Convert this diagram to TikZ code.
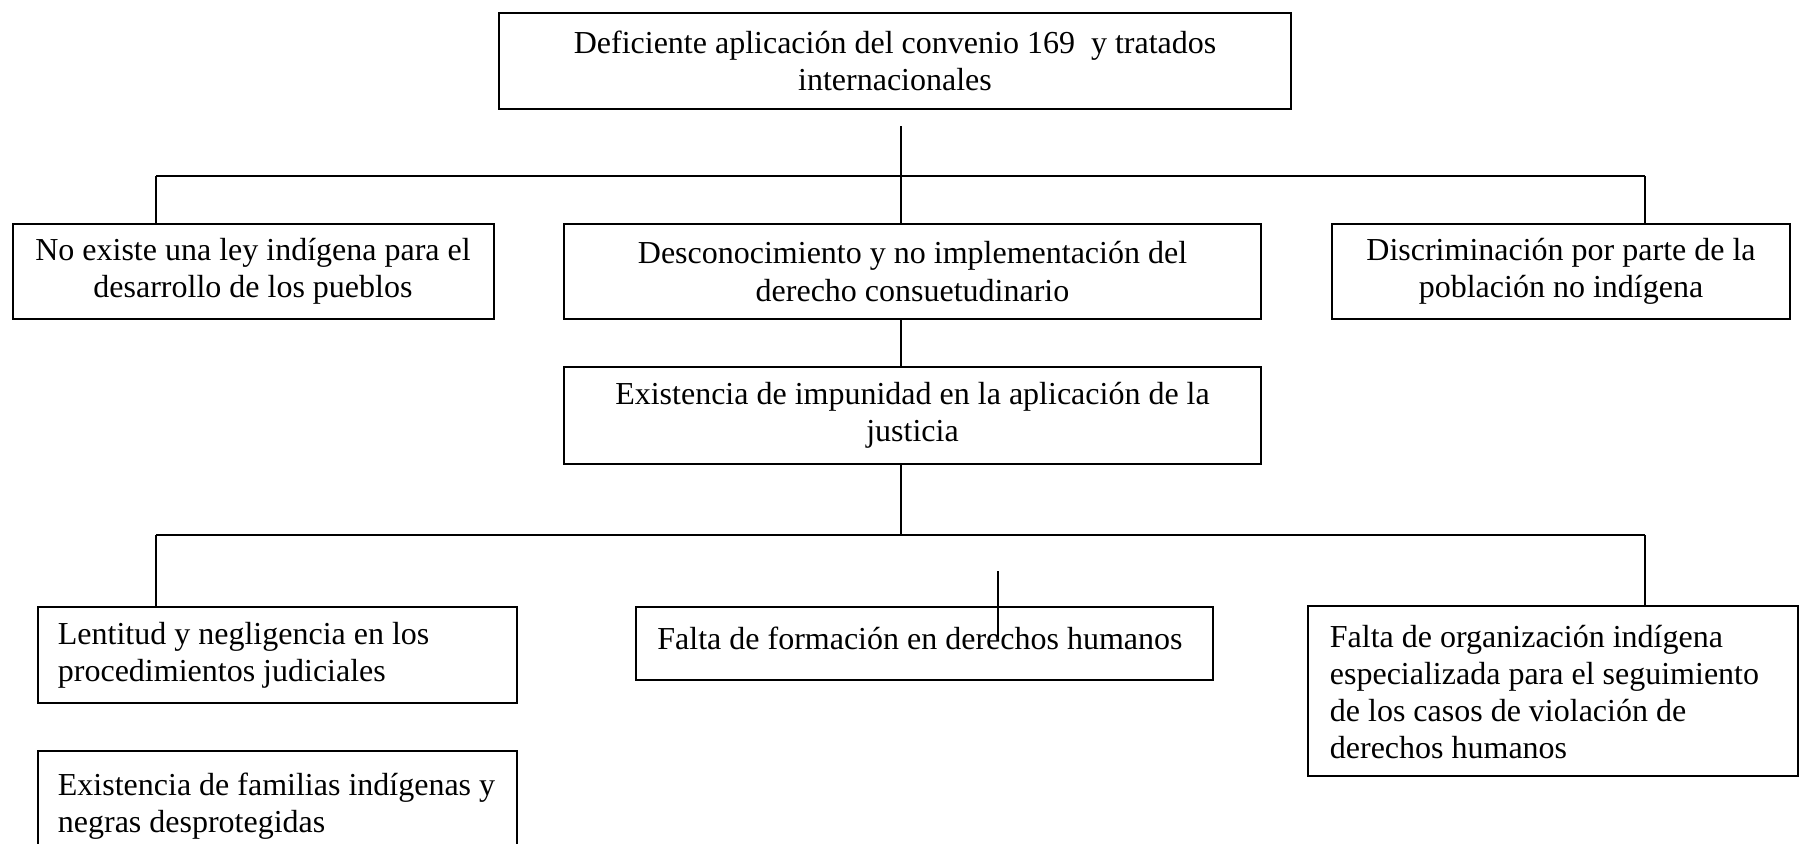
\documentclass[tikz,border=0pt]{standalone}
\usepackage{fontspec}
\setmainfont{Liberation Serif}
\begin{document}
\begin{tikzpicture}[x=0.5pt,y=-0.5pt,
  txt/.style={font=\fontsize{16pt}{18.6pt}\selectfont},
  box/.style={draw, line width=1pt, rectangle, inner sep=0pt},
  cbox/.style={box, txt, align=center},
  lbl/.style={txt, align=left, inner sep=0pt, anchor=west},
  link/.style={line width=0.9pt}]
\useasboundingbox (0,0) rectangle (1800,843);
% centred boxes
\node[cbox, minimum width=396pt, minimum height=48pt] (top) at (895,61)
  {Deficiente aplicación del convenio 169~ y tratados\\internacionales};
\node[cbox, minimum width=240.5pt, minimum height=47.5pt] (A) at (253,271.5)
  {No existe una ley indígena para el\\desarrollo de los pueblos};
\node[cbox, minimum width=348.5pt, minimum height=47.5pt] (B) at (912.5,271.5)
  {Desconocimiento y no implementación del\\derecho consuetudinario};
\node[cbox, minimum width=229pt, minimum height=47.5pt] (C) at (1561,271.5)
  {Discriminación por parte de la\\población no indígena};
\node[cbox, minimum width=348.5pt, minimum height=48.5pt] (D) at (912.5,415.5)
  {Existencia de impunidad en la aplicación de la\\justicia};
% left-aligned boxes (frame + text)
\node[box, minimum width=239.5pt, minimum height=48pt] (E) at (277.5,655) {};
\node[lbl] (Et) at (57.5,655)
  {Lentitud y negligencia en los\\procedimientos judiciales};
\node[box, minimum width=288.5pt, minimum height=36.5pt] (F) at (924.5,643.5) {};
\node[lbl] (Ft) at (657,638) {Falta de formación en derechos humanos};
\node[box, minimum width=245pt, minimum height=85pt] (G) at (1553,691) {};
\node[lbl] (Gt) at (1329.5,692)
  {Falta de organización indígena\\especializada para el seguimiento\\de los casos de violación de\\derechos humanos};
\node[box, minimum width=239.5pt, minimum height=48pt] (H) at (277.5,799) {};
\node[lbl] (Ht) at (57.5,806)
  {Existencia de familias indígenas y\\negras desprotegidas};
% junction coordinates
\coordinate (t0) at (901,126);
\coordinate (j1) at (901,176);
\coordinate (l1) at (156,176);
\coordinate (r1) at (1645,176);
\coordinate (j2) at (901,535);
\coordinate (l2) at (156,535);
\coordinate (r2) at (1645,535);
\coordinate (f0) at (998,571);
% connectors
\draw[link] (t0) -- (j1);
\draw[link] (l1) -- (r1);
\draw[link] (l1) -- (l1 |- A.north);
\draw[link] (j1) -- (j1 |- B.north);
\draw[link] (r1) -- (r1 |- C.north);
\draw[link] (B.south -| j1) -- (D.north -| j1);
\draw[link] (D.south -| j1) -- (j2);
\draw[link] (l2) -- (r2);
\draw[link] (l2) -- (l2 |- E.north);
\draw[link] (r2) -- (r2 |- G.north);
\draw[link] (f0) -- ++(0,67);
\end{tikzpicture}
\end{document}
